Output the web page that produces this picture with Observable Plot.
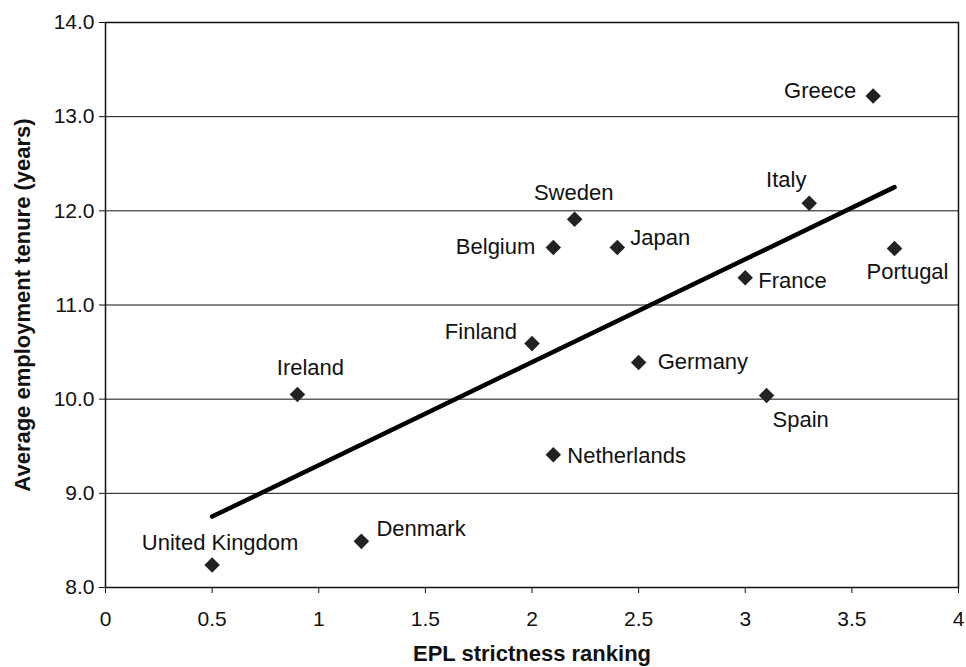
<!DOCTYPE html>
<html>
<head>
<meta charset="utf-8">
<script src="https://cdn.jsdelivr.net/npm/d3@7"></script>
<script src="https://cdn.jsdelivr.net/npm/@observablehq/plot@0.6"></script>
<style>
  html, body { margin: 0; padding: 0; background: #fff; }
  #chart svg { display: block; }
</style>
</head>
<body>
<div id="chart"></div>
<script>
// Data
const countries = ["United Kingdom", "Denmark", "Ireland", "Finland", "Netherlands", "Belgium", "Sweden", "Japan", "Germany", "Spain", "France", "Italy", "Greece", "Portugal"];
const eplRanking = [0.5, 1.2, 0.9, 2.0, 2.1, 2.1, 2.2, 2.4, 2.5, 3.1, 3.0, 3.3, 3.6, 3.7];
const avgTenure = [8.24, 8.49, 10.05, 10.59, 9.41, 11.61, 11.91, 11.61, 10.39, 10.04, 11.29, 12.08, 13.22, 11.60];
const xTicks = [0, 0.5, 1, 1.5, 2, 2.5, 3, 3.5, 4];
const yTicks = [8, 9, 10, 11, 12, 13, 14];

// Label placement (pixel offsets from each point)
const labelPlacement = {
  "United Kingdom": {anchor: "middle", dx: 8, dy: -22},
  "Denmark": {anchor: "start", dx: 15, dy: -12},
  "Ireland": {anchor: "middle", dx: 13, dy: -27},
  "Finland": {anchor: "end", dx: -15, dy: -12},
  "Netherlands": {anchor: "start", dx: 14, dy: 1},
  "Belgium": {anchor: "end", dx: -18, dy: -1},
  "Sweden": {anchor: "middle", dx: -1, dy: -26},
  "Japan": {anchor: "start", dx: 13, dy: -10},
  "Germany": {anchor: "start", dx: 19, dy: 0},
  "Spain": {anchor: "start", dx: 6, dy: 25},
  "France": {anchor: "start", dx: 13, dy: 3},
  "Italy": {anchor: "middle", dx: -23, dy: -23},
  "Greece": {anchor: "end", dx: -17, dy: -5},
  "Portugal": {anchor: "middle", dx: 13, dy: 23}
};

const data = countries.map((c, i) => ({country: c, x: eplRanking[i], y: avgTenure[i]}));

const labelMarks = data.map(d => {
  const p = labelPlacement[d.country];
  return Plot.text([d], {x: "x", y: "y", text: "country", textAnchor: p.anchor, dx: p.dx, dy: p.dy, fontSize: 22, fill: "#111"});
});

const chart = Plot.plot({
  width: 966,
  height: 667,
  marginLeft: 105,
  marginRight: 8,
  marginTop: 22,
  marginBottom: 80,
  style: {fontFamily: "'Liberation Sans', Arial, sans-serif", fontSize: "21px", color: "#111", background: "#fff"},
  x: {domain: [0, 4]},
  y: {domain: [8, 14]},
  marks: [
    Plot.ruleY(yTicks, {stroke: "#111", strokeWidth: 1}),
    Plot.axisX({ticks: xTicks, tickFormat: d => String(d), tickSize: 6, tickPadding: 18, fontSize: 21,
      label: "EPL strictness ranking", labelAnchor: "center", labelArrow: "none", labelOffset: 73}),
    Plot.axisY({ticks: yTicks, tickFormat: d3.format(".1f"), tickSize: 6, tickPadding: 5, fontSize: 21,
      label: "Average employment tenure (years)", labelAnchor: "center", labelArrow: "none", labelOffset: 91}),
    Plot.frame({stroke: "#111", strokeWidth: 1.5}),
    Plot.linearRegressionY(data, {x: "x", y: "y", ci: 0, stroke: "#000", strokeWidth: 4.5}),
    Plot.dot(data, {x: "x", y: "y", symbol: "diamond2", r: 7, fill: "#222", stroke: "none"}),
    ...labelMarks
  ]
});

// bold axis titles
chart.querySelectorAll('[aria-label="x-axis label"] text, [aria-label="y-axis label"] text').forEach(t => {
  t.setAttribute("font-weight", "bold");
  t.setAttribute("font-size", "22");
});
document.getElementById("chart").appendChild(chart);
</script>
</body>
</html>
